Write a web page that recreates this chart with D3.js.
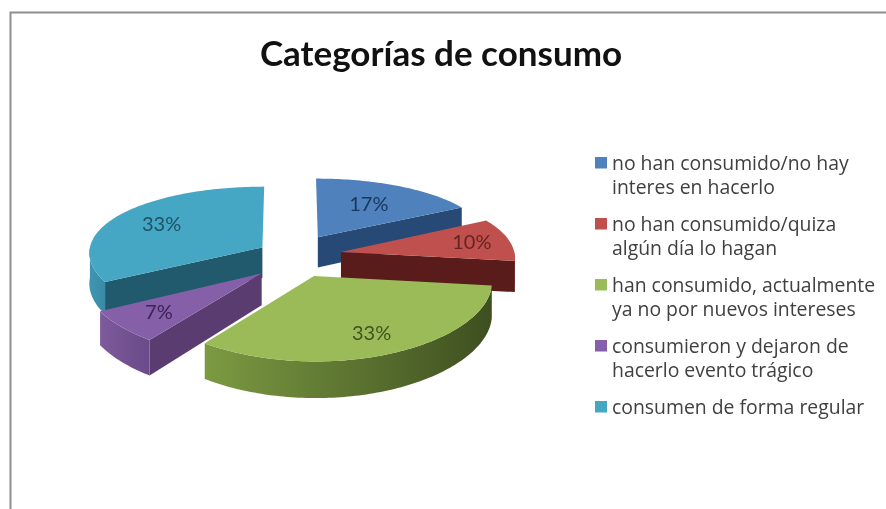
<!DOCTYPE html>
<html><head><meta charset="utf-8">
<script src="https://cdn.jsdelivr.net/npm/d3@7/dist/d3.min.js"></script>
<style>html,body{margin:0;background:#fff}svg{display:block;filter:blur(0.45px)}</style>
</head><body><div id="c"></div>
<script>
const titleText = "Categorías de consumo";
const categories = [
  ["no han consumido/no hay","interes en hacerlo"],
  ["no han consumido/quiza","algún día lo hagan"],
  ["han consumido, actualmente","ya no por nuevos intereses"],
  ["consumieron y dejaron de","hacerlo evento trágico"],
  ["consumen de forma regular"]
];
const values = [17,10,33,7,33];
const explodeX = [0.163,0.294,0.135,-0.16,-0.16];
const explodeZ = [-0.275,-0.057,0.276,0.24,-0.125];
const labelRadius = [0.62,0.78,0.76,0.74,0.70];
const topColors = ["#4f81bd","#c0504d","#9bbb59","#8560a8","#46a7c4"];
const wallColors = ["#264a75","#5a1c1b","#4f6529","#5b3c70","#215a6c"];
const outerFrom = ["#3d6595","#6b2220","#7c9a42","#7d5a9c","#3f96b2"];
const outerTo = ["#264a75","#5a1c1b","#3e4f20","#6a4a88","#3a8aa5"];
const labelColors = ["#17375e","#632523","#3f5320","#3c2257","#1f5364"];
const drawOrder = [4,0,1,3,2];

const W=886,H=509;
const svg=d3.select("#c").append("svg").attr("width",W).attr("height",H);
const defs=svg.append("defs");
svg.append("path").attr("d",`M10.5,${H}V12.5H${W}`).attr("fill","none").attr("stroke","#8e8e8e").attr("stroke-width",2);
svg.append("text").attr("x",441).attr("y",66).attr("text-anchor","middle")
  .attr("font-family","Lato, 'Open Sans', sans-serif").attr("font-weight",700).attr("font-size",35).attr("fill","#111").text(titleText);

const pie=d3.pie().sort(null).value(d=>d)(values);
const cx=290,cy=256,a0=174,k=70,py=0.12,px=0.07,depth=31;
function proj(X,Z,h){const s=1/(1-Z*py),sx=1/(1-Z*px);return [cx+X*a0*sx,cy+Z*k*s+h*depth*s];}
function pt(i,ang,r,h){
  return proj(explodeX[i]+r*Math.sin(ang),explodeZ[i]-r*Math.cos(ang),h);
}
const line=d3.line();
const arcAngles=(a,b)=>{const n=Math.max(2,Math.ceil((b-a)/0.02));return d3.range(n+1).map(j=>a+(b-a)*j/n);};
const g=svg.append("g");
drawOrder.forEach(i=>{
  const d=pie[i],a=d.startAngle,b=d.endAngle,sl=g.append("g");
  if(Math.sin(a)<-1e-6){
    sl.append("path").attr("fill",wallColors[i]).attr("d",line([pt(i,a,0,0),pt(i,a,1,0),pt(i,a,1,1),pt(i,a,0,1)])+"Z");
  }
  if(Math.sin(b)>1e-6){
    sl.append("path").attr("fill",wallColors[i]).attr("d",line([pt(i,b,0,0),pt(i,b,1,0),pt(i,b,1,1),pt(i,b,0,1)])+"Z");
  }
  const fa=Math.max(a,Math.PI/2),fb=Math.min(b,3*Math.PI/2);
  if(fb>fa){
    const angs=arcAngles(fa,fb);
    const upper=angs.map(t=>pt(i,t,1,0)),lower=angs.map(t=>pt(i,t,1,1)).reverse();
    const id="o"+i,xs=upper.map(q=>q[0]);
    const gr=defs.append("linearGradient").attr("id",id).attr("gradientUnits","userSpaceOnUse")
      .attr("x1",d3.min(xs)).attr("x2",d3.max(xs)).attr("y1",0).attr("y2",0);
    gr.append("stop").attr("offset",0).attr("stop-color",outerFrom[i]);
    gr.append("stop").attr("offset",1).attr("stop-color",outerTo[i]);
    sl.append("path").attr("fill",`url(#${id})`).attr("d",line(upper.concat(lower))+"Z");
  }
  const top=[pt(i,a,0,0)].concat(arcAngles(a,b).map(t=>pt(i,t,1,0)));
  sl.append("path").attr("fill",topColors[i]).attr("d",line(top)+"Z");
});
drawOrder.forEach(i=>{
  const d=pie[i],m=(d.startAngle+d.endAngle)/2,q=pt(i,m,labelRadius[i],0);
  g.append("text").attr("x",q[0]).attr("y",q[1]+7).attr("text-anchor","middle")
   .attr("font-family","Lato, sans-serif").attr("font-size",20).attr("fill",labelColors[i])
   .text(Math.round(values[i])+"%");
});
const legY=d3.scaleLinear().domain([0,4]).range([157,401]);
const leg=svg.append("g").attr("font-family","'Open Sans', sans-serif").attr("font-size",19.4).attr("fill","#404040");
categories.forEach((c,i)=>{
  leg.append("rect").attr("x",595).attr("y",legY(i)).attr("width",12).attr("height",11.5).attr("fill",topColors[i]);
  c.forEach((t,j)=>leg.append("text").attr("x",612).attr("y",legY(i)+12.5+j*24.5).text(t));
});
</script></body></html>
